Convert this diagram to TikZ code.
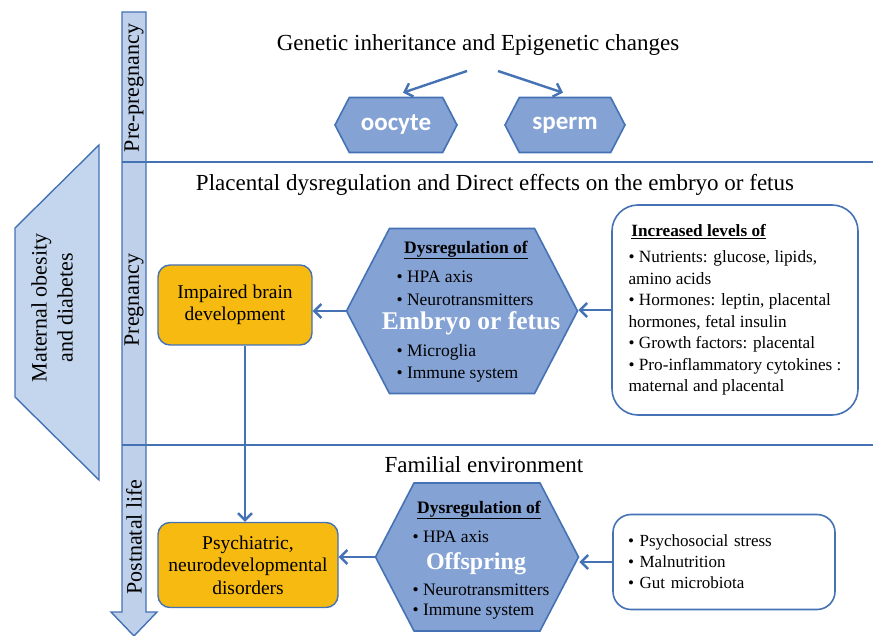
\documentclass[tikz,border=0pt]{standalone}
\usepackage{fontspec}
\setmainfont{Liberation Serif}
\newfontfamily\calibri{Carlito}
\usetikzlibrary{arrows.meta,shapes.symbols}

\definecolor{linecol}{RGB}{68,114,180}
\definecolor{hexfill}{RGB}{132,162,212}
\definecolor{barfill}{RGB}{190,208,234}
\definecolor{trapfill}{RGB}{196,214,238}
\definecolor{boxorange}{RGB}{246,186,17}

\tikzset{
  arr/.style={line width=2.4pt,linecol,-{Straight Barb[length=7pt,width=14pt]}},
  hexa/.style={signal,signal to=east and west,signal pointer angle=125,draw=linecol,line width=1.6pt,fill=hexfill,inner sep=0pt},
  orangebox/.style={draw=linecol,line width=1.4pt,fill=boxorange,rounded corners=12pt,align=center,font=\fontsize{19.5}{22.5}\selectfont},
  whitebox/.style={draw=linecol,line width=1.6pt,fill=white,rounded corners=26pt,align=left},
  sectitle/.style={font=\fontsize{23}{26}\selectfont},
  phase/.style={rotate=90,font=\fontsize{22}{24}\selectfont},
  item/.style={anchor=west,font=\fontsize{17.5}{20}\selectfont},
}

\begin{document}
\begin{tikzpicture}[x=1pt,y=-1pt]
        \useasboundingbox (0,0) rectangle (873,636);
        % time axis and section lines
        \draw[line width=1.4pt,draw=linecol,fill=barfill] (122,12) -- (146,12) -- (146,612) -- (157,612)
            -- (134,636) -- (111,612) -- (122,612) -- cycle;
        \draw[line width=2pt,linecol] (122,162) -- (873,162);
        \draw[line width=2pt,linecol] (122,445) -- (873,445);
        \node[phase] (pre) at (134,88) {Pre-pregnancy};
        \node[phase] (preg) at (134,300) {Pregnancy};
        \node[phase] (post) at (134,537) {Postnatal life};
        % mother
        \draw[line width=1.4pt,draw=linecol,fill=trapfill] (99,145) -- (15,228) -- (15,397) -- (99,480) -- cycle;
        \node[rotate=90,align=center,font=\fontsize{22}{26}\selectfont] (mother) at (52,308) {Maternal obesity\\and diabetes};

        % pre-pregnancy
        \node[sectitle] (genetic) at (478,45) {Genetic inheritance and Epigenetic changes};
        \node[hexa,minimum width=122pt,minimum height=55pt,font=\calibri\bfseries\fontsize{25}{27}\selectfont,text=white] (oocyte) at (396,125) {oocyte};
        \node[hexa,minimum width=120pt,minimum height=55pt,font=\calibri\bfseries\fontsize{25}{27}\selectfont,text=white] (sperm) at (565,125) {sperm};
        \coordinate (gl) at (467,71);
        \coordinate (gr) at (498,71);
        \draw[arr] (gl) -- ([xshift=7pt,yshift=4pt]oocyte.north);
        \draw[arr] (gr) -- ([xshift=-2pt,yshift=4pt]sperm.north);

        % pregnancy
        \node[sectitle] (placenta) at (495,185) {Placental dysregulation and Direct effects on the embryo or fetus};
        \node[hexa,minimum width=231pt,minimum height=165pt] (embryo) at (462,311) {};
        \node[font=\fontsize{17.5}{20}\selectfont\bfseries] (dys1) at (466,250) {\underline{Dysregulation of}};
        \node[item] (hpa1) at (393,277) {• HPA axis};
        \node[item] (neuro1) at (393,300) {• Neurotransmitters};
        \node[font=\fontsize{25.5}{28}\selectfont\bfseries,text=white] (embryotxt) at (471,323) {Embryo or fetus};
        \node[item] (micro1) at (393,352) {• Microglia};
        \node[item] (immune1) at (393,375) {• Immune system};
        \node[orangebox,minimum width=154pt,minimum height=80pt] (brain) at (235,305) {Impaired brain\\development};
        \node[whitebox,minimum width=246pt,minimum height=210pt,font=\fontsize{17.2}{21.5}\selectfont] (levels) at (735,310)
            {\,\textbf{\underline{Increased levels of}}\\[5pt]
             • Nutrients: glucose, lipids,\\amino acids\\
             • Hormones: leptin, placental\\hormones, fetal insulin\\
             • Growth factors: placental\\
             • Pro-inflammatory cytokines :\\maternal and placental};
        \draw[arr] (embryo.west) -- (embryo.west -| brain.east);
        \draw[arr] (levels.west) -- (levels.west -| embryo.east);

        % postnatal life
        \node[sectitle] (family) at (484,465) {Familial environment};
        \node[hexa,minimum width=203pt,minimum height=148pt] (offspring) at (477,557) {};
        \node[font=\fontsize{17.5}{20}\selectfont\bfseries] (dys2) at (479,510) {\underline{Dysregulation of}};
        \node[item] (hpa2) at (409,537) {• HPA axis};
        \node[font=\fontsize{24}{28}\selectfont\bfseries,text=white] (offtxt) at (476,564) {Offspring};
        \node[item] (neuro2) at (409,590) {• Neurotransmitters};
        \node[item] (immune2) at (409,612) {• Immune system};
        \node[orangebox,minimum width=180pt,minimum height=85pt] (disorder) at (248,565) {Psychiatric,\\neurodevelopmental\\disorders};
        \node[whitebox,text width=192pt,inner xsep=15pt,minimum height=95pt,rounded corners=18pt,font=\fontsize{17}{21}\selectfont] (stress) at (724,562)
            {• Psychosocial stress\\• Malnutrition\\• Gut microbiota};
        \draw[arr] (offspring.west) -- (offspring.west -| disorder.east);
        \draw[arr] (stress.west) -- (stress.west -| offspring.east);
        \draw[arr] ([xshift=10pt]brain.south) -- ([xshift=10pt]brain.south |- disorder.north);
    \end{tikzpicture}
\end{document}
